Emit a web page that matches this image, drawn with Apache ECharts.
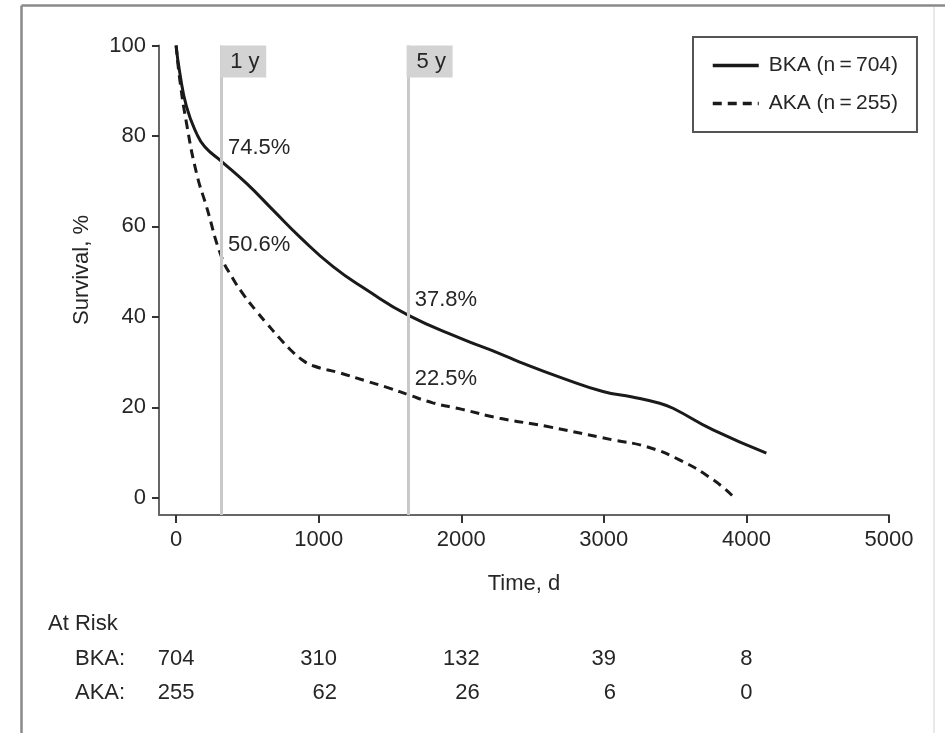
<!DOCTYPE html>
<html><head><meta charset="utf-8">
<script src="https://cdn.jsdelivr.net/npm/echarts@6/dist/echarts.min.js"></script>
<style>html,body{margin:0;padding:0;background:#fff}#c{width:945px;height:733px}</style>
</head><body><div id="c"></div>
<script>
// ---- data ----
const bkaTime = [0, 26, 73, 143, 201, 318, 494, 680, 867, 1101, 1335, 1627, 2000, 2269, 2410, 2714, 2994, 3200, 3392, 3485, 3766, 4140];
const bkaSurv = [100, 93.9, 86.5, 80.6, 77.6, 74.4, 69.5, 63.6, 57.7, 51.1, 46, 40.4, 35.2, 31.9, 30.0, 26.4, 23.5, 22.3, 20.9, 19.8, 15, 9.9];
const akaTime = [0, 26, 73, 143, 213, 318, 400, 480, 560, 640, 720, 800, 880, 961, 1150, 1335, 1500, 1627, 1800, 2000, 2270, 2597, 3064, 3299, 3530, 3766, 3906];
const akaSurv = [100, 92.4, 82.8, 71.8, 64.4, 53.3, 48.4, 44.6, 41.4, 38.4, 35.5, 32.8, 30.6, 29.2, 27.6, 25.8, 24.2, 22.8, 21.0, 19.6, 17.6, 15.8, 12.8, 11.3, 8.4, 4, 0.3];
const seriesNames = ['BKA (n\u2009=\u2009704)', 'AKA (n\u2009=\u2009255)'];
const xTicks = [0, 1000, 2000, 3000, 4000, 5000];
const yTicks = [0, 20, 40, 60, 80, 100];
const markTimes = [320, 1627];
const markLabels = ['1 y', '5 y'];
const pctLabels = ['74.5%', '50.6%', '37.8%', '22.5%'];
const riskTimes = [0, 1000, 2000, 3000, 4000];
const riskBKA = ['704', '310', '132', '39', '8'];
const riskAKA = ['255', '62', '26', '6', '0'];

// ---- layout (not data) ----
const pctAnchors = [[364, 77.3], [364, 55.9], [1674, 43.7], [1674, 26.3]];
const FONT = "'Liberation Sans', Arial, sans-serif";
const FS = 22;
const TXT = '#262626';

const chart = echarts.init(document.getElementById('c'), null, {renderer: 'canvas'});
const zip = (a, b) => a.map((v, i) => [v, b[i]]);

chart.setOption({
  animation: false,
  backgroundColor: '#fff',
  textStyle: {fontFamily: FONT},
  grid: {left: 159, right: 56, top: 45.5, bottom: 218, containLabel: false},
  xAxis: {
    type: 'value', min: -120, max: 5000,
    axisLine: {onZero: false, lineStyle: {color: '#666', width: 2}},
    axisTick: {customValues: xTicks, length: 8, lineStyle: {color: '#333', width: 2}},
    axisLabel: {customValues: xTicks, margin: 14, fontSize: FS, color: TXT, fontFamily: FONT,
                formatter: v => String(v)},
    splitLine: {show: false},
    name: 'Time, d', nameLocation: 'middle', nameGap: 58,
    nameTextStyle: {fontSize: FS, color: TXT, fontFamily: FONT}
  },
  yAxis: {
    type: 'value', min: -3.8, max: 100,
    axisLine: {onZero: false, lineStyle: {color: '#666', width: 2}},
    axisTick: {customValues: yTicks, length: 7, lineStyle: {color: '#333', width: 2}},
    axisLabel: {customValues: yTicks, margin: 13, fontSize: FS, color: TXT, fontFamily: FONT,
                formatter: v => String(v)},
    splitLine: {show: false}
  },
  legend: {
    orient: 'vertical', left: 693, top: 37,
    data: seriesNames,
    itemWidth: 46, itemHeight: 22, itemGap: 17,
    padding: [18, 19, 18, 18],
    borderColor: '#555', borderWidth: 2,
    itemStyle: {opacity: 0, borderWidth: 0},
    lineStyle: {width: 3.5},
    textStyle: {fontSize: 21, color: TXT, fontFamily: FONT, padding: [0, 0, 0, 5]}
  },
  series: [
    {
      type: 'line', name: 'marks', data: [], z: 1, silent: true,
      markLine: {
        silent: true, symbol: 'none', animation: false,
        label: {show: false},
        lineStyle: {color: '#c9c9c9', width: 3, type: 'solid'},
        data: markTimes.map(t => ({xAxis: t}))
      }
    },
    {
      type: 'line', name: seriesNames[0], data: zip(bkaTime, bkaSurv), z: 3,
      symbol: 'none', smooth: 0.5,
      lineStyle: {color: '#1a1a1a', width: 3, type: 'solid'},
      itemStyle: {color: '#1a1a1a'}
    },
    {
      type: 'line', name: seriesNames[1], data: zip(akaTime, akaSurv), z: 3,
      symbol: 'none', smooth: 0.5,
      lineStyle: {color: '#1a1a1a', width: 3, type: [9, 6]},
      itemStyle: {color: '#1a1a1a'}
    }
  ]
});

// ---- annotations via the chart's own scales ----
const px = (x, y) => chart.convertToPixel({gridIndex: 0}, [x, y]);
const ctx = document.createElement('canvas').getContext('2d');
ctx.font = FS + 'px ' + FONT;
const tw = s => ctx.measureText(s).width;
const txt = (text, x, y, align, extra) => Object.assign({
  type: 'text', silent: true, z: 10,
  style: {text, x, y, fill: TXT, fontSize: FS, fontFamily: FONT,
          align, verticalAlign: 'middle', textAlign: align, textVerticalAlign: 'middle'}
}, extra || {});

const els = [];
// outer frame
els.push({type: 'line', silent: true, shape: {x1: 21.5, y1: 5.5, x2: 945, y2: 5.5}, style: {stroke: '#8a8a8a', lineWidth: 2.5}});
els.push({type: 'line', silent: true, shape: {x1: 21.5, y1: 5.5, x2: 21.5, y2: 733}, style: {stroke: '#8a8a8a', lineWidth: 2.5}});
els.push({type: 'line', silent: true, shape: {x1: 934, y1: 7, x2: 934, y2: 733}, style: {stroke: '#e2e2e2', lineWidth: 1.5}});
// 1y / 5y label boxes
const topY = px(0, 100)[1];
markTimes.forEach((t, i) => {
  const x = px(t, 0)[0];
  els.push({type: 'rect', silent: true, z: 5, shape: {x: x - 1.5, y: topY, width: 46, height: 32}, style: {fill: '#d3d3d3'}});
  els.push(txt(markLabels[i], x + 8.5, topY + 16.5, 'left'));
});
// percentage labels
pctLabels.forEach((s, i) => {
  const p = px(pctAnchors[i][0], pctAnchors[i][1]);
  els.push(txt(s, p[0], p[1], 'left'));
});
// y axis name
els.push(txt('Survival, %', 0, 0, 'center', {rotation: Math.PI / 2, x: 82, y: 270}));
// at-risk table
els.push(txt('At Risk', 48, 624, 'left'));
els.push(txt('BKA:', 75, 659, 'left'));
els.push(txt('AKA:', 75, 693, 'left'));
riskTimes.forEach((t, i) => {
  const x = px(t, 0)[0];
  const right = x + tw(riskBKA[i]) / 2;
  els.push(txt(riskBKA[i], right, 659, 'right'));
  els.push(txt(riskAKA[i], right, 693, 'right'));
});
chart.setOption({graphic: {elements: els}});
</script>
</body></html>
